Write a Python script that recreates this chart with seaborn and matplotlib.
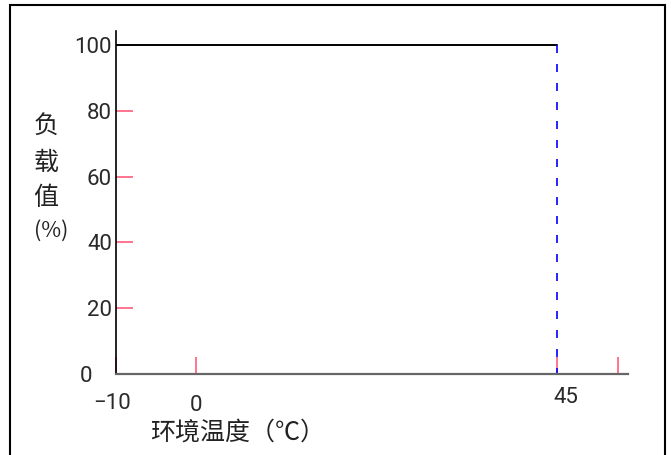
import matplotlib
matplotlib.use("Agg")
import matplotlib.pyplot as plt
import matplotlib.transforms as mtransforms
from matplotlib.patches import Rectangle
import seaborn as sns
import pandas as pd

# derating curve: full load up to 45 C, then drop
temp = [-10, 45]
load = [100, 100]
drop_temp = [45, 45]
drop_load = [100, 0]

x_ticks = [-10, 0, 45, 52.6]
x_labels = ["\u221210", "0", "45", ""]
y_ticks = [0, 20, 40, 60, 80, 100]

sns.set_theme(style="white")
plt.rcParams['font.family'] = ['Roboto', 'DejaVu Sans']

W, H = 671, 455
fig = plt.figure(figsize=(W / 100, H / 100), dpi=100)
ax = fig.add_axes([116 / W, (H - 374) / H, (628 - 116) / W, (374 - 31) / H])

df = pd.DataFrame({'temp': temp, 'load': load})
sns.lineplot(data=df, x='temp', y='load', color='black', linewidth=1.4,
             estimator=None, sort=False, ax=ax)
dl = pd.DataFrame({'temp': drop_temp, 'load': drop_load})
sns.lineplot(data=dl, x='temp', y='load', color='#0000ff', linewidth=1.2,
             estimator=None, sort=False, linestyle=(0, (4.8, 6.6)), ax=ax)

ax.set_xlim(-10, 53.85)
ax.set_ylim(0, 104.3)
ax.set_xlabel('')
ax.set_ylabel('')

for s in ['top', 'right']:
    ax.spines[s].set_visible(False)
ax.spines['left'].set_color('black')
ax.spines['left'].set_linewidth(1.2)
ax.spines['bottom'].set_color('#666666')
ax.spines['bottom'].set_linewidth(1.6)
ax.set_axisbelow(True)

ax.set_xticks(x_ticks)
ax.set_xticklabels(x_labels)
ax.set_yticks(y_ticks)
ax.tick_params(axis='both', direction='in', color='#ff5c7c', width=1.2,
               labelsize=16, labelcolor='#2a2a2a', bottom=True, left=True)
ax.tick_params(axis='y', length=12, pad=3)
ax.tick_params(axis='x', length=12, pad=15)

# nudge a few labels like the original drawing
def shift(lbl, dx, dy):
    lbl.set_transform(lbl.get_transform() +
                      mtransforms.ScaledTranslation(dx / 100, dy / 100, fig.dpi_scale_trans))

ylabs = ax.get_yticklabels()
shift(ylabs[0], -20, 0)
xlabs = ax.get_xticklabels()
shift(xlabs[0], -4, 2)
shift(xlabs[2], 9, 8)

cjk = ['Noto Sans CJK SC', 'DejaVu Sans']
for ch, y in zip(['负', '载', '值'], [126, 163, 198]):
    fig.text(46 / W, 1 - y / H, ch, family=cjk, fontsize=18, color='#222222',
             ha='center', va='center')
fig.text(51 / W, 1 - 231 / H, '(%)', family=cjk, fontsize=15.5, color='#222222',
         ha='center', va='center')
fig.text(238 / W, 1 - 433 / H, '环境温度（℃）', family=cjk, fontsize=18,
         color='#222222', ha='center', va='center')

# outer frame
fig.patches.append(Rectangle((10 / W, -0.1), (665 - 10) / W, 1 - 5 / H + 0.1,
                             transform=fig.transFigure, fill=False,
                             edgecolor='black', linewidth=1.5))

fig.savefig('out.png', dpi=100)
